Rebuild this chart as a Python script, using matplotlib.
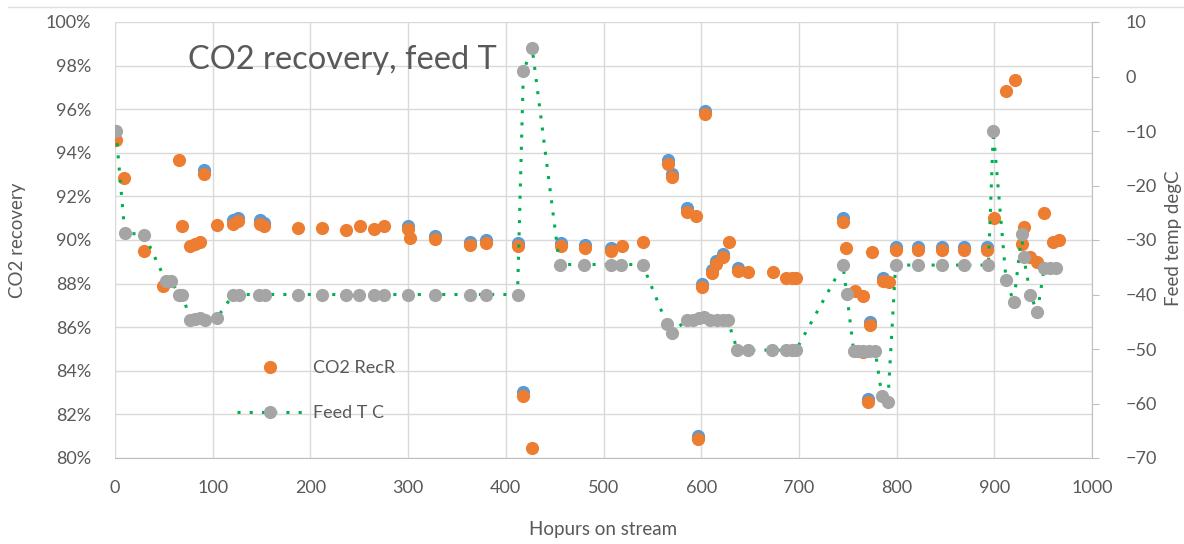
import numpy as np
import matplotlib
matplotlib.use("Agg")
import matplotlib.pyplot as plt
from matplotlib.lines import Line2D
from matplotlib.ticker import FuncFormatter
from matplotlib.transforms import ScaledTranslation

plt.rcParams['font.family'] = ['Lato', 'DejaVu Sans']

# CO2 recovery (%) vs hours on stream
rec_hours = [1, 9, 30, 49, 65, 69, 77, 82, 87, 91, 104, 121, 126, 148, 153,
             187, 212, 236, 251, 265, 275, 300, 302, 328, 363, 380, 412, 418,
             427, 456, 481, 508, 519, 540, 566, 570, 585, 595, 597, 601, 604,
             611, 615, 622, 628, 638, 648, 673, 687, 693, 697, 745, 748, 757,
             766, 766, 771, 773, 775, 786, 792, 799, 822, 846, 869, 893, 900,
             912, 921, 928, 930, 937, 944, 951, 960, 966]
rec_pct = [94.6, 92.85, 89.5, 87.9, 93.65, 90.65, 89.73, 89.8, 89.9, 93.05,
           90.7, 90.75, 90.85, 90.75, 90.65, 90.55, 90.55, 90.45, 90.64, 90.5,
           90.66, 90.5, 90.1, 90.03, 89.75, 89.85, 89.73, 82.85, 80.46, 89.73,
           89.65, 89.5, 89.72, 89.92, 93.5, 92.87, 91.3, 91.1, 80.88, 87.83,
           95.78, 88.47, 88.88, 89.22, 89.92, 88.57, 88.52, 88.52, 88.27,
           88.27, 88.27, 90.84, 89.62, 87.66, 87.44, 84.85, 82.58, 86.08,
           89.46, 88.11, 88.06, 89.55, 89.55, 89.55, 89.55, 89.55, 91.0,
           96.85, 97.33, 89.8, 90.6, 89.24, 89.0, 91.25, 89.92, 90.0]

# raw recovery series, mostly hidden under the corrected one
raw_hours = [91, 121, 126, 148, 153, 300, 328, 363, 380, 412, 418, 456, 481,
             508, 566, 570, 585, 597, 601, 604, 611, 615, 622, 638, 745, 771,
             773, 786, 799, 822, 846, 869, 893]
raw_pct = [93.13, 90.83, 90.93, 90.83, 90.73, 90.58, 90.1, 89.83, 89.93,
           89.81, 82.94, 89.81, 89.72, 89.58, 93.58, 92.95, 91.38, 80.96,
           87.91, 95.86, 88.55, 88.96, 89.3, 88.65, 90.92, 82.66, 86.16,
           88.19, 89.63, 89.63, 89.63, 89.63, 89.63]

# feed temperature (degC)
temp_hours = [1, 10, 30, 52, 57, 66, 69, 77, 82, 87, 92, 104, 121, 127, 147,
              154, 187, 212, 236, 250, 265, 275, 300, 328, 363, 380, 412, 418,
              427, 455, 480, 508, 518, 540, 565, 570, 585, 592, 598, 603, 609,
              616, 622, 627, 637, 648, 672, 687, 693, 697, 745, 749, 756, 761,
              766, 772, 778, 785, 791, 799, 822, 846, 869, 894, 899, 912, 920,
              928, 930, 937, 944, 951, 957, 963]
temp_c = [-10, -28.7, -29, -37.5, -37.5, -40, -40, -44.7, -44.5, -44.4, -44.7,
          -44.4, -40, -40, -40, -40, -40, -40, -40, -40, -40, -40, -40, -40,
          -40, -40, -40, 1, 5.2, -34.5, -34.5, -34.5, -34.5, -34.5, -45.5,
          -47, -44.7, -44.6, -44.4, -44.2, -44.6, -44.7, -44.7, -44.6, -50.2,
          -50.2, -50.2, -50.2, -50.2, -50.2, -34.6, -39.9, -50.3, -50.3,
          -50.3, -50.3, -50.3, -58.6, -59.8, -34.6, -34.6, -34.6, -34.6,
          -34.6, -10, -37.3, -41.4, -28.9, -33.1, -40, -43.3, -35.2, -35.2,
          -35.2]

text_col = '#595959'
grid_col = '#d9d9d9'
orange = '#ed7d31'
blue = '#5b9bd5'
gray = '#a5a5a5'
green = '#00b050'

fig = plt.figure(figsize=(11.84, 5.44), dpi=100)
ax = fig.add_axes([115 / 1184, 1 - 458 / 544, 977 / 1184, 436 / 544])
ax2 = ax.twinx()

# blue markers nudged up a pixel or two so they peek out from under the orange
shift = ScaledTranslation(0, 1.5 / 100, fig.dpi_scale_trans)
ax.plot(raw_hours, raw_pct, 'o', ms=9.5, color=blue, mec='none',
        transform=ax.transData + shift)
ax.plot(rec_hours, rec_pct, 'o', ms=9.5, color=orange, mec='none')

ax2.plot(temp_hours, temp_c, color=green, lw=2.2, ls=(0, (1, 3)),
         marker='o', ms=9.5, mfc=gray, mec='none')

ax.set_xlim(0, 1000)
ax.set_ylim(80, 100)
ax.set_xticks(np.arange(0, 1001, 100))
ax.set_yticks(np.arange(80, 100.1, 2))
ax.yaxis.set_major_formatter(FuncFormatter(lambda v, p: f'{v:.0f}%'))
ax2.set_ylim(-70, 10)
ax2.set_yticks(np.arange(-70, 11, 10))

ax.grid(True, color=grid_col, lw=1)
ax.set_axisbelow(True)
for s in ['top', 'left', 'right']:
    ax.spines[s].set_visible(False)
ax.spines['bottom'].set_color('#bfbfbf')
for s in ['top', 'left', 'bottom']:
    ax2.spines[s].set_visible(False)
ax2.spines['right'].set_color('#bfbfbf')

ax.tick_params(axis='both', length=0, labelsize=13, labelcolor=text_col)
ax.tick_params(axis='y', pad=17)
ax.tick_params(axis='x', pad=16)
ax2.tick_params(axis='y', direction='out', length=5, color='#bfbfbf',
                labelsize=13, labelcolor=text_col, pad=19)

fig.text(188 / 1184, 1 - 60 / 544, 'CO2 recovery, feed T', fontsize=23.5,
         color=text_col, ha='left', va='center')
fig.text(18 / 1184, 1 - 240 / 544, 'CO2 recovery', fontsize=13.5,
         color=text_col, rotation=90, ha='center', va='center')
fig.text(1173 / 1184, 1 - 238 / 544, 'Feed temp degC', fontsize=13.5,
         color=text_col, rotation=90, ha='center', va='center')
fig.text(603 / 1184, 1 - 530 / 544, 'Hopurs on stream', fontsize=13.5,
         color=text_col, ha='center', va='center')

handles = [Line2D([], [], ls='none', marker='o', ms=9.5, color=orange, mec='none'),
           Line2D([], [], color=green, lw=2.2, ls=(0, (1, 3)), marker='o',
                  ms=9.5, mfc=gray, mec='none')]
fig.legend(handles, ['CO2 RecR', 'Feed T C'], loc='upper left',
           bbox_to_anchor=(237 / 1184, 1 - 360 / 544), frameon=False,
           fontsize=13, labelcolor=text_col, handlelength=3.6,
           handletextpad=0.6, labelspacing=1.6, borderpad=0, borderaxespad=0)

# light chart border line along the top
fig.add_artist(Line2D([8 / 1184, 1], [1 - 7 / 544, 1 - 7 / 544], color='#e0e0e0', lw=1))

fig.savefig('out.png', dpi=100)
